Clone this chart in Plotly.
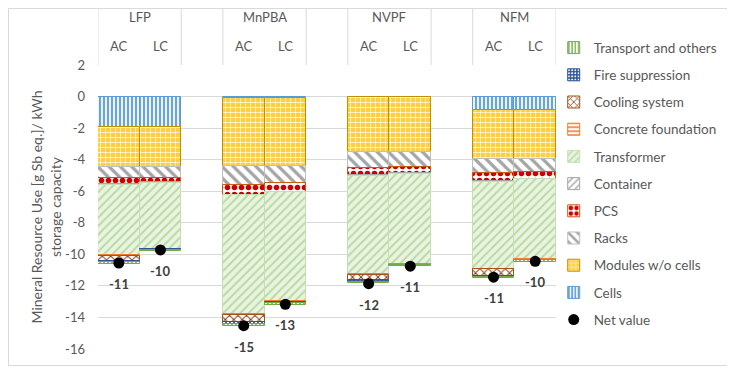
import plotly.graph_objects as go

# categories: chemistry groups, cooling type per bar, empty slot between groups
groups = ["LFP", "MnPBA", "NVPF", "NFM"]
cooling_types = ["AC", "LC"]

# component contributions [g Sb eq./kWh], bar order:
# LFP AC, LFP LC, MnPBA AC, MnPBA LC, NVPF AC, NVPF LC, NFM AC, NFM LC
cells = [-1.96, -1.96, -0.12, -0.12, -0.05, -0.05, -0.86, -0.86]
modules = [-2.50, -2.50, -4.29, -4.29, -3.45, -3.45, -3.11, -3.11]
racks = [-0.67, -0.67, -1.21, -1.06, -1.00, -0.96, -0.87, -0.80]
pcs = [-0.40, -0.31, -0.62, -0.57, -0.47, -0.40, -0.50, -0.45]
container = [-0.05, -0.03, -0.03, -0.03, -0.04, -0.03, -0.05, -0.03]
transformer = [-4.48, -4.17, -7.54, -6.91, -6.26, -5.74, -5.52, -5.07]
concrete = [-0.05, -0.02, -0.05, -0.03, -0.05, -0.02, -0.05, -0.02]
cooling = [-0.29, None, -0.44, None, -0.33, None, -0.39, None]  # LC: none
fire = [-0.08, -0.05, -0.12, -0.09, -0.08, -0.05, -0.07, -0.05]
transport = [-0.11, -0.08, -0.15, -0.13, -0.09, -0.07, -0.09, -0.07]
net_value = [-10.55, -9.72, -14.52, -13.17, -11.86, -10.75, -11.45, -10.44]

y_tickvals = [2, 0, -2, -4, -6, -8, -10, -12, -14, -16]
y_ticktext = ["2", "0", "-2", "-4", "-6", "-8", "-10", "-12", "-14", "-16"]

FONT = "Lato, Liberation Sans, sans-serif"
GRAY = "#595959"
GRID = "#d9d9d9"

# x categories incl. an empty slot after each group (except the last)
bar_cats = [f"{g} {c}" for g in groups for c in cooling_types]
all_cats = []
for i, g in enumerate(groups):
    all_cats += [f"{g} {c}" for c in cooling_types]
    if i < len(groups) - 1:
        all_cats.append(f"gap{i}")

# (name, values, pattern shape, fg, bg, border, solidity, size)
components = [
    ("Cells", cells, "|", "#5B9BD5", "#EAF2FA", "#5B9BD5", 0.45, 4),
    ("Modules w/o cells", modules, "+", "#FFFFFF", "#FFCF40", "#BF9000", 0.25, 5),
    ("Racks", racks, "\\", "#A5A5A5", "#FFFFFF", "#BFBFBF", 0.4, 8),
    ("PCS", pcs, ".", "#D00000", "#FFFFFF", "#C55A11", 0.5, 7),
    ("Container", container, "/", "#A5A5A5", "#FFFFFF", "#A5A5A5", 0.3, 6),
    ("Transformer", transformer, "/", "#B5D89C", "#E8F3E0", "#C5E0B4", 0.3, 6),
    ("Concrete foundation", concrete, "-", "#ED7D31", "#FFFFFF", "#ED7D31", 0.4, 5),
    ("Cooling system", cooling, "x", "#843C0C", "#FFFFFF", "#A5501E", 0.3, 6),
    ("Fire suppression", fire, ".", "#FFFFFF", "#2F5597", "#2F5597", 0.3, 4),
    ("Transport and others", transport, "|", "#70AD47", "#FFFFFF", "#70AD47", 0.4, 4),
]

fig = go.Figure()
n_comp = len(components)
for k, (name, vals, shape, fg, bg, border, sol, size) in enumerate(components):
    fig.add_trace(go.Bar(
        x=bar_cats,
        y=vals,
        name=name,
        legendgroup=name,
        legendrank=n_comp - k,
        width=1,
        marker=dict(
            color=bg,
            line=dict(color=border, width=1),
            pattern=dict(shape=shape, fgcolor=fg, bgcolor=bg,
                         solidity=sol, size=size, fillmode="replace"),
        ),
        hovertemplate=f"{name}<br>%{{x}}: %{{y:.2f}}<extra></extra>",
    ))

fig.add_trace(go.Scatter(
    x=bar_cats,
    y=net_value,
    name="Net value",
    legendgroup="Net value",
    legendrank=n_comp + 1,
    mode="markers",
    marker=dict(color="black", size=11),
    hovertemplate="Net value<br>%{x}: %{y:.2f}<extra></extra>",
))

# net value labels below the dots
for cat, v in zip(bar_cats, net_value):
    fig.add_annotation(
        x=cat, y=v, text=f"<b>{v:.0f}</b>", showarrow=False,
        yanchor="middle", yshift=-21,
        font=dict(family=FONT, size=13, color="#404040"),
    )

# header: group names and cooling types above the plot
for i, g in enumerate(groups):
    first = all_cats.index(f"{g} {cooling_types[0]}")
    fig.add_annotation(
        x=first + 0.5, y=1.169, xref="x", yref="paper", text=g,
        showarrow=False, yanchor="middle",
        font=dict(family=FONT, size=13, color=GRAY),
    )
    for c in cooling_types:
        fig.add_annotation(
            x=f"{g} {c}", y=1.067, xref="x", yref="paper", text=c,
            showarrow=False, yanchor="middle",
            font=dict(family=FONT, size=13, color=GRAY),
        )

# header cell dividers
bounds = [-0.5]
for i, g in enumerate(groups):
    last = all_cats.index(f"{g} {cooling_types[-1]}")
    bounds.append(last + 0.5)
    if i < len(groups) - 1:
        bounds.append(last + 1.5)
for b in bounds:
    fig.add_shape(type="line", xref="x", yref="paper", x0=b, x1=b,
                  y0=1.0, y1=1.197, line=dict(color=GRID, width=1))

# chart area border
fig.add_shape(type="rect", xref="paper", yref="paper",
              x0=-0.1954, x1=1.3875, y0=-0.0581, y1=1.199,
              line=dict(color=GRID, width=1), layer="below")

fig.update_layout(
    width=727,
    height=360,
    barmode="relative",
    bargap=0,
    plot_bgcolor="white",
    paper_bgcolor="white",
    margin=dict(l=90, r=179, t=57, b=19),
    font=dict(family=FONT, size=13, color=GRAY),
    showlegend=True,
    legend=dict(
        x=0.995, xanchor="left", y=1.115, yanchor="top",
        font=dict(family=FONT, size=13.5, color=GRAY),
        tracegroupgap=6.65, bgcolor="rgba(0,0,0,0)",
        maxheight=340,
    ),
    xaxis=dict(
        type="category",
        categoryorder="array",
        categoryarray=all_cats,
        range=[-0.5, len(all_cats) - 0.5],
        showticklabels=False,
        showgrid=False,
        showline=False,
        zeroline=False,
    ),
    yaxis=dict(
        range=[-16, 2],
        tickvals=y_tickvals,
        ticktext=y_ticktext,
        showgrid=True,
        gridcolor=GRID,
        zeroline=True,
        zerolinecolor=GRID,
        zerolinewidth=1,
        showline=False,
        ticklabelstandoff=12,
        tickfont=dict(family=FONT, size=13, color=GRAY),
        title=dict(
            text="Mineral Resource Use [g Sb eq.]/ kWh<br>storage capacity",
            font=dict(family=FONT, size=14, color=GRAY),
            standoff=0,
        ),
    ),
)

fig.write_html("out.html")
